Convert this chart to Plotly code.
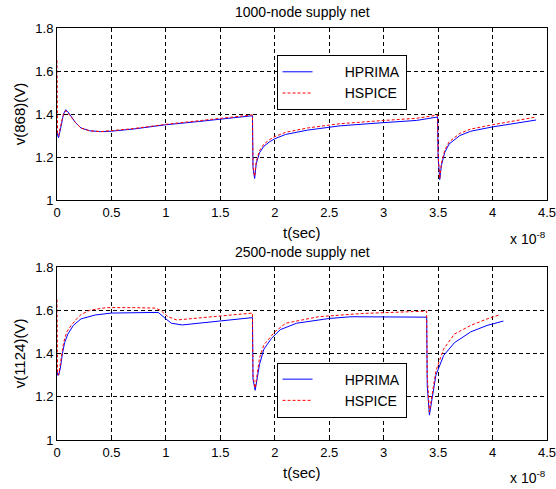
import plotly.graph_objects as go

# top: 1000-node supply net (t in units of 1e-8 s)
t_top_hprima = [0, 0.005, 0.015, 0.025, 0.04, 0.06, 0.08, 0.1, 0.13, 0.17, 0.22, 0.3, 0.4, 0.5,
                0.7, 1.0, 1.3, 1.6, 1.795, 1.80, 1.815, 1.83, 1.86, 1.9, 1.95, 2.0, 2.1, 2.3,
                2.6, 3.0, 3.3, 3.495, 3.50, 3.515, 3.53, 3.56, 3.6, 3.7, 3.8, 4.0, 4.2, 4.4]
v_top_hprima = [1.32, 1.30, 1.29, 1.32, 1.35, 1.40, 1.42, 1.41, 1.39, 1.36, 1.335, 1.322, 1.318,
                1.32, 1.33, 1.35, 1.365, 1.38, 1.392, 1.15, 1.10, 1.17, 1.22, 1.25, 1.27, 1.285,
                1.305, 1.325, 1.345, 1.36, 1.37, 1.386, 1.20, 1.095, 1.16, 1.22, 1.26, 1.30,
                1.32, 1.34, 1.355, 1.372]

t_top_hspice = [0, 0.005, 0.015, 0.025, 0.04, 0.06, 0.08, 0.1, 0.13, 0.17, 0.22, 0.3, 0.4, 0.5,
                0.7, 1.0, 1.3, 1.6, 1.795, 1.80, 1.815, 1.83, 1.86, 1.9, 1.95, 2.0, 2.1, 2.3,
                2.6, 3.0, 3.3, 3.495, 3.50, 3.515, 3.53, 3.56, 3.6, 3.7, 3.8, 4.0, 4.2, 4.4]
v_top_hspice = [1.65, 1.31, 1.30, 1.33, 1.36, 1.40, 1.415, 1.405, 1.385, 1.36, 1.335, 1.322,
                1.318, 1.322, 1.332, 1.352, 1.368, 1.383, 1.396, 1.16, 1.11, 1.18, 1.23, 1.26,
                1.28, 1.295, 1.315, 1.335, 1.355, 1.37, 1.38, 1.395, 1.21, 1.10, 1.17, 1.23,
                1.27, 1.31, 1.33, 1.35, 1.368, 1.386]

# bottom: 2500-node supply net
t_bot_hprima = [0, 0.005, 0.015, 0.03, 0.05, 0.07, 0.1, 0.15, 0.22, 0.35, 0.5, 0.7, 0.93, 1.0,
                1.05, 1.15, 1.3, 1.5, 1.7, 1.795, 1.80, 1.82, 1.86, 1.9, 1.97, 2.05, 2.2, 2.5,
                2.7, 3.0, 3.395, 3.40, 3.42, 3.48, 3.55, 3.65, 3.8, 3.95, 4.1]
v_bot_hprima = [1.32, 1.30, 1.30, 1.33, 1.40, 1.45, 1.49, 1.53, 1.56, 1.578, 1.587, 1.59, 1.59,
                1.56, 1.54, 1.532, 1.54, 1.55, 1.56, 1.566, 1.28, 1.23, 1.35, 1.42, 1.47, 1.51,
                1.54, 1.562, 1.57, 1.568, 1.568, 1.25, 1.115, 1.30, 1.39, 1.45, 1.50, 1.53,
                1.55]

t_bot_hspice = [0, 0.005, 0.015, 0.03, 0.06, 0.09, 0.13, 0.18, 0.22, 0.3, 0.45, 0.7, 0.9, 0.95,
                1.02, 1.1, 1.4, 1.6, 1.795, 1.80, 1.82, 1.86, 1.9, 2.0, 2.1, 2.4, 2.8, 3.395,
                3.40, 3.42, 3.48, 3.55, 3.65, 3.8, 3.95, 4.06]
v_bot_hspice = [1.65, 1.31, 1.30, 1.35, 1.45, 1.50, 1.53, 1.56, 1.58, 1.60, 1.612, 1.612,
                1.61, 1.60, 1.57, 1.555, 1.57, 1.58, 1.587, 1.30, 1.24, 1.38, 1.44, 1.50, 1.54,
                1.57, 1.585, 1.596, 1.30, 1.13, 1.32, 1.42, 1.49, 1.53, 1.56, 1.578]

x_ticks = [0, 0.5, 1, 1.5, 2, 2.5, 3, 3.5, 4, 4.5]
y_ticks = [1, 1.2, 1.4, 1.6, 1.8]
names = ["HPRIMA", "HSPICE"]

FONT = "Liberation Sans, Arial, sans-serif"
BLUE = "#0000ff"
RED = "#ff0000"
RED_DASH = "3px,2px"

fig = go.Figure()
pad = "\u00a0" * 7
fig.add_trace(go.Scatter(x=t_top_hprima, y=v_top_hprima, mode="lines", name=pad + names[0],
                         line=dict(color=BLUE, width=1), xaxis="x", yaxis="y", legend="legend"))
fig.add_trace(go.Scatter(x=t_top_hspice, y=v_top_hspice, mode="lines", name=pad + names[1],
                         line=dict(color=RED, width=1, dash=RED_DASH), xaxis="x", yaxis="y",
                         legend="legend"))
fig.add_trace(go.Scatter(x=t_bot_hprima, y=v_bot_hprima, mode="lines", name=pad + names[0],
                         line=dict(color=BLUE, width=1), xaxis="x2", yaxis="y2", legend="legend2"))
fig.add_trace(go.Scatter(x=t_bot_hspice, y=v_bot_hspice, mode="lines", name=pad + names[1],
                         line=dict(color=RED, width=1, dash=RED_DASH), xaxis="x2", yaxis="y2",
                         legend="legend2"))

axis_common = dict(
    showline=True, linecolor="black", linewidth=1, mirror=True, automargin=False,
    showgrid=True, gridcolor="black", gridwidth=1, griddash="4px,3px",
    zeroline=False, ticks="inside", ticklen=4, tickcolor="black",
    tickfont=dict(family=FONT, size=13, color="black"),
)
xa = dict(axis_common, range=[0, 4.5], tickvals=x_ticks, ticktext=[f"{v:g}" for v in x_ticks],
          ticklabeloverflow="allow")
ya = dict(axis_common, range=[1, 1.8], tickvals=y_ticks, ticktext=[f"{v:g}" for v in y_ticks])

legend_common = dict(
    bgcolor="white", bordercolor="black", borderwidth=1,
    font=dict(family=FONT, size=14, color="black"),
    xanchor="left", yanchor="top", tracegroupgap=0, itemwidth=30,
)

label_font = dict(family=FONT, size=15, color="black")


def note(text, x, y, xanchor, yanchor, yshift, size=14):
    return dict(text=text, x=x, y=y, xref="paper", yref="paper", xanchor=xanchor,
                yanchor=yanchor, yshift=yshift, showarrow=False,
                font=dict(family=FONT, size=size, color="black"))


TOP_BOTTOM = 0.5825
BOT_TOP = 0.4199

fig.update_layout(
    width=556, height=489,
    margin=dict(l=57, r=9, t=28, b=49),
    paper_bgcolor="white", plot_bgcolor="white",
    showlegend=True,
    xaxis=dict(xa, domain=[0, 1], anchor="y"),
    yaxis=dict(ya, domain=[TOP_BOTTOM, 1.0], anchor="x",
               title=dict(text="v(868)(V)", font=label_font, standoff=6)),
    xaxis2=dict(xa, domain=[0, 1], anchor="y2"),
    yaxis2=dict(ya, domain=[0.0, BOT_TOP], anchor="x2",
                title=dict(text="v(1124)(V)", font=label_font, standoff=6)),
    legend=dict(legend_common, x=0.448, y=0.934),
    legend2=dict(legend_common, x=0.448, y=0.188),
    annotations=[
        note("1000-node supply net", 0.5, 1.0, "center", "middle", 16),
        note("2500-node supply net", 0.5, BOT_TOP, "center", "middle", 15),
        note("t(sec)", 0.5, TOP_BOTTOM, "center", "middle", -32, size=15),
        note("t(sec)", 0.5, 0.0, "center", "middle", -32, size=15),
        note("x 10<sup>-8</sup>", 0.92, TOP_BOTTOM, "left", "middle", -38),
        note("x 10<sup>-8</sup>", 0.92, 0.0, "left", "middle", -37),
    ],
)

# drop the default 8px body margin so the figure fills the window exactly
fig.write_html("out.html", config={"displayModeBar": False},
               post_script="document.body.style.margin = '0';")
